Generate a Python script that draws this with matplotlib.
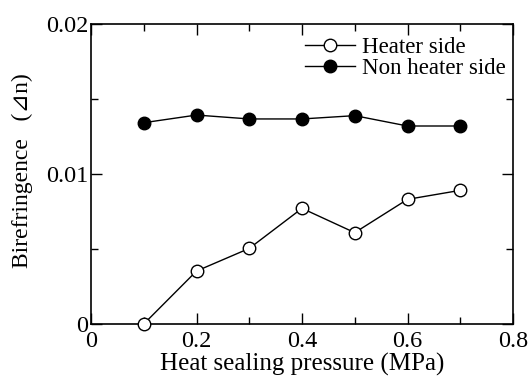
import numpy as np
import matplotlib.pyplot as plt
from matplotlib.ticker import MultipleLocator

plt.rcParams['font.family'] = ['Liberation Serif', 'DejaVu Serif', 'DejaVu Sans']

pressure = [0.1, 0.2, 0.3, 0.4, 0.5, 0.6, 0.7]
heater = [0.0, 0.00353, 0.00504, 0.00771, 0.00609, 0.00831, 0.00891]
non_heater = [0.01342, 0.01393, 0.01367, 0.01367, 0.01389, 0.0132, 0.0132]

xticks = [0, 0.2, 0.4, 0.6, 0.8]
xlabels = ['0', '0.2', '0.4', '0.6', '0.8']
yticks = [0, 0.01, 0.02]
ylabels = ['0', '0.01', '0.02']

fig = plt.figure(figsize=(5.31, 3.82), dpi=100)
ax = fig.add_axes([91/531, 1-324/382, (513-91)/531, (324-24)/382])

ax.plot(pressure, heater, '-o', color='black', mfc='white', mec='black',
        ms=9, lw=1, mew=1, label='Heater side', clip_on=False, zorder=3)
ax.plot(pressure, non_heater, '-o', color='black', mfc='black',
        ms=9, lw=1, label='Non heater side', clip_on=False, zorder=3)

ax.set_xlim(0, 0.8)
ax.set_ylim(0, 0.02)
ax.set_xticks(xticks)
ax.set_xticklabels(xlabels)
ax.set_yticks(yticks)
ax.set_yticklabels(ylabels)
ax.xaxis.set_minor_locator(MultipleLocator(0.1))
ax.yaxis.set_minor_locator(MultipleLocator(0.005))
ax.tick_params(which='both', direction='in', top=True, right=True,
               labelsize=17.5, width=1)
ax.tick_params(which='major', length=8)
ax.tick_params(axis='x', which='major', pad=5)
ax.tick_params(axis='y', which='major', pad=2)
ax.tick_params(which='minor', length=5)
for s in ax.spines.values():
    s.set_linewidth(1.2)

ax.set_xlabel('Heat sealing pressure (MPa)', fontsize=18, labelpad=1)
ax.set_ylabel('Birefringence   (⊿n)', fontsize=17)
ax.yaxis.set_label_coords(-0.137, 0.51)

ax.legend(loc='upper right', frameon=False, fontsize=16.5, handlelength=2.2,
          handletextpad=0.3, labelspacing=0.0, borderaxespad=0.0,
          bbox_to_anchor=(1.005, 0.988))

fig.savefig('out.png', dpi=100)
